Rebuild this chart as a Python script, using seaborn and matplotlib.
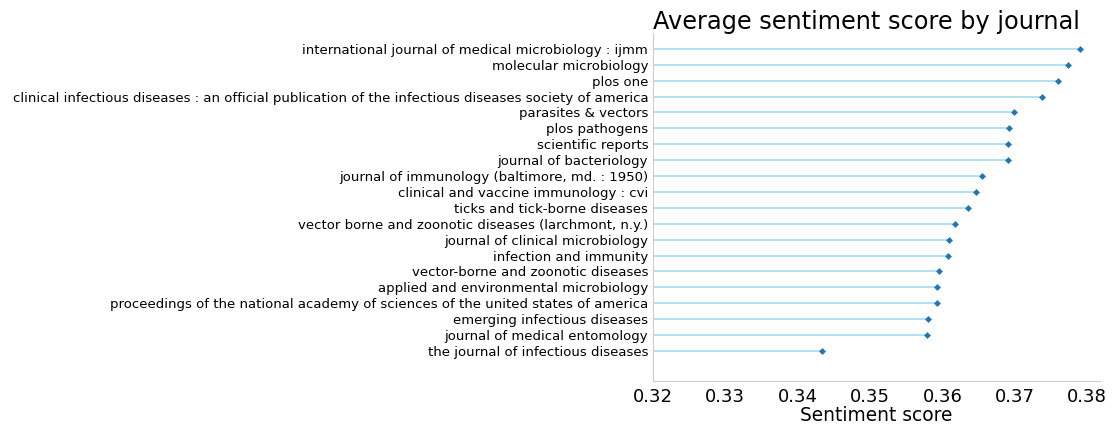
import matplotlib
matplotlib.use("Agg")
import matplotlib.pyplot as plt
import seaborn as sns
import pandas as pd

journals = [
    "international journal of medical microbiology : ijmm",
    "molecular microbiology",
    "plos one",
    "clinical infectious diseases : an official publication of the infectious diseases society of america",
    "parasites & vectors",
    "plos pathogens",
    "scientific reports",
    "journal of bacteriology",
    "journal of immunology (baltimore, md. : 1950)",
    "clinical and vaccine immunology : cvi",
    "ticks and tick-borne diseases",
    "vector borne and zoonotic diseases (larchmont, n.y.)",
    "journal of clinical microbiology",
    "infection and immunity",
    "vector-borne and zoonotic diseases",
    "applied and environmental microbiology",
    "proceedings of the national academy of sciences of the united states of america",
    "emerging infectious diseases",
    "journal of medical entomology",
    "the journal of infectious diseases",
]
scores = [0.3791, 0.3774, 0.3760, 0.3738, 0.3699, 0.3692, 0.3691, 0.3691,
          0.3655, 0.3646, 0.3636, 0.3617, 0.3609, 0.3608, 0.3596, 0.3593,
          0.3592, 0.3580, 0.3579, 0.3433]
x_ticks = [0.32, 0.33, 0.34, 0.35, 0.36, 0.37, 0.38]

df = pd.DataFrame({"journal": journals, "score": scores})
n = len(df)
df["pos"] = list(range(n - 1, -1, -1))

sns.set_style("white")
plt.rcParams["text.color"] = "black"
plt.rcParams["axes.labelcolor"] = "black"
plt.rcParams["xtick.color"] = "black"
plt.rcParams["ytick.color"] = "black"

fig = plt.figure(figsize=(11.12, 4.25), dpi=100)
ax = fig.add_axes([653 / 1112, 1 - 381 / 425, (1100 - 653) / 1112, (381 - 33) / 425])

ax.hlines(y=df["pos"], xmin=x_ticks[0], xmax=df["score"], color="skyblue",
          linewidth=1.2, alpha=0.75)
sns.scatterplot(data=df, x="score", y="pos", marker="D", color="#1f77b4",
                s=9, edgecolor="#1f77b4", linewidth=0.5, ax=ax, zorder=3)

ax.set_xlim(x_ticks[0], 0.3818)
ax.set_ylim(-1.89, n)
ax.set_xticks(x_ticks)
ax.set_xticklabels([f"{t:.2f}" for t in x_ticks], fontsize=13)
ax.set_yticks(df["pos"])
ax.set_yticklabels(df["journal"], fontsize=9.5)
ax.tick_params(axis="y", length=2.5, width=0.8, color="#888888", labelcolor="black", pad=1)
ax.tick_params(axis="x", length=2, width=0.8, color="#aaaaaa", pad=3, labelcolor="black")
ax.set_xlabel("Sentiment score", fontsize=13.4, labelpad=0, color="black")
ax.set_ylabel("")
ax.set_title("Average sentiment score by journal", loc="left", fontsize=17.3, pad=3,
             color="black")

for s in ["top", "right"]:
    ax.spines[s].set_visible(False)
for s in ["left", "bottom"]:
    ax.spines[s].set_color("#cccccc")
    ax.spines[s].set_linewidth(0.8)

fig.savefig("out.png", dpi=100)
